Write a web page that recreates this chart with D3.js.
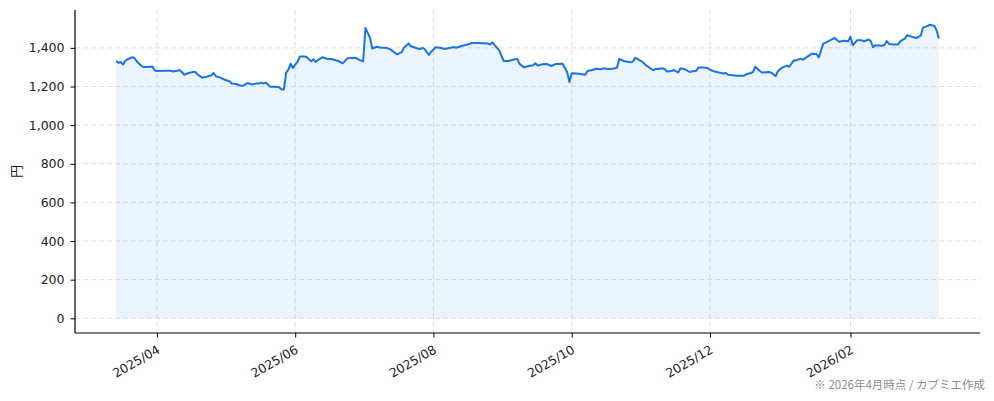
<!DOCTYPE html>
<html>
<head>
<meta charset="utf-8">
<script src="https://cdn.jsdelivr.net/npm/d3@7"></script>
<style>
  body { margin: 0; background: #fff; }
  svg { display: block; font-family: "DejaVu Sans", "Noto Sans CJK JP", sans-serif; }
  .grid line { stroke: #dfdfe6; stroke-dasharray: 5,3; stroke-width: 1; }
  .axis text { fill: #222; font-size: 12.5px; font-family: "DejaVu Sans", "Noto Sans CJK JP", sans-serif; }
  .axis path, .axis line { stroke: #000; }
  .footnote { fill: #8c8c8c; font-size: 11.5px; font-family: "Noto Sans CJK JP", sans-serif; }
</style>
</head>
<body>
<svg id="chart"></svg>
<script>
// first trading day shown, every point is an offset in days from it
const startDate = "2025-03-14";

const dayOffsets = [
  0, 1, 2, 3, 4, 5, 7, 8, 9, 11, 12, 14, 16, 17, 18, 21, 24, 25, 27, 28, 29, 30, 32, 34, 35, 36, 38, 40, 42, 43, 44, 46, 48, 50, 51, 53, 55, 56, 58,
  60, 62, 63, 64, 65, 66, 67, 68, 70, 72, 73, 74, 75, 76, 77, 78, 79, 80, 81, 83, 84, 86, 87, 88, 89, 91, 93, 95, 98, 100, 102, 105, 106, 107, 109, 110, 112, 113, 115, 117,
  119, 121, 124, 126, 127, 129, 130, 133, 134, 135, 136, 138, 139, 141, 143, 145, 147, 149, 150, 152, 155, 157, 160, 164, 165, 166, 169, 171, 173,
  176, 177, 178, 180, 182, 184, 185, 186, 188, 190, 192, 194, 197, 199, 200, 201, 203, 205, 207, 208, 210, 212, 214, 215, 217, 219, 220, 221, 222, 224, 227, 228, 229, 232, 234, 236, 237,
  238, 239, 241, 242, 243, 245, 246, 248, 249, 251, 253, 255, 256, 257, 259, 261, 262, 264, 266, 268, 269, 270, 272, 274, 277, 278, 280, 281, 282, 284, 285, 288, 289, 290, 291, 292, 294, 296, 297,
  299, 300, 302, 303, 305, 307, 309, 310, 312, 313, 315, 317, 319, 321, 323, 324, 325, 327, 329, 330, 332, 333, 334, 335, 338, 339, 340, 341, 343, 345, 346, 348, 349, 351, 353, 355, 356, 358, 359, 361, 362, 363
];

const prices = [
  1332, 1323, 1327, 1313, 1332, 1341, 1351, 1349, 1332, 1308, 1301, 1301, 1303, 1284, 1280, 1282, 1282, 1278, 1282, 1285, 1275, 1261, 1270, 1275, 1275, 1261, 1246, 1251, 1258, 1270, 1253, 1246, 1235, 1227, 1216, 1213, 1204, 1204, 1218,
  1210, 1216, 1215, 1220, 1215, 1220, 1210, 1199, 1199, 1196, 1185, 1185, 1272, 1287, 1318, 1296, 1313, 1327, 1355, 1355, 1353, 1330, 1341, 1327, 1337, 1351, 1344, 1342, 1332, 1320, 1346, 1349, 1347, 1339, 1330, 1503, 1453, 1397, 1406, 1401,
  1401, 1392, 1366, 1378, 1401, 1423, 1408, 1397, 1394, 1399, 1396, 1363, 1380, 1403, 1401, 1394, 1399, 1404, 1401, 1408, 1417, 1425, 1425, 1422, 1418, 1428, 1387, 1332, 1332,
  1341, 1343, 1317, 1299, 1306, 1310, 1320, 1308, 1315, 1317, 1306, 1317, 1318, 1275, 1223, 1268, 1267, 1265, 1261, 1280, 1285, 1292, 1289, 1294, 1291, 1292, 1294, 1298, 1343, 1332, 1325, 1329, 1349, 1329, 1308, 1292, 1284,
  1291, 1291, 1294, 1291, 1278, 1280, 1285, 1273, 1294, 1289, 1275, 1280, 1282, 1299, 1298, 1296, 1287, 1278, 1272, 1267, 1270, 1261, 1258, 1256, 1256, 1263, 1270, 1275, 1303, 1280, 1272, 1275, 1272, 1263, 1253, 1280, 1299, 1308, 1302,
  1335, 1335, 1344, 1339, 1355, 1370, 1368, 1351, 1422, 1427, 1439, 1451, 1432, 1437, 1434, 1458, 1413, 1440, 1439, 1434, 1443, 1434, 1403, 1413, 1411, 1415, 1435, 1420, 1417, 1417, 1435, 1448, 1465, 1458, 1451, 1463, 1505, 1513, 1520, 1513, 1491, 1448
];

const xTickDates = ["2025-04-01", "2025-06-01", "2025-08-01", "2025-10-01", "2025-12-01", "2026-02-01"];
const yTickValues = [0, 200, 400, 600, 800, 1000, 1200, 1400];
const yLabel = "円";
const footnote = "※ 2026年4月時点 / カブミエ作成";

class PriceChart {
  constructor(_config, _data) {
    this.config = {
      parentElement: _config.parentElement,
      containerWidth: _config.containerWidth || 994,
      containerHeight: _config.containerHeight || 401,
      margin: _config.margin || { top: 10, right: 14, bottom: 68, left: 75 },
    };
    this.data = _data;
    this.initVis();
  }

  initVis() {
    let vis = this;

    vis.width = vis.config.containerWidth - vis.config.margin.left - vis.config.margin.right;
    vis.height = vis.config.containerHeight - vis.config.margin.top - vis.config.margin.bottom;

    vis.xScale = d3.scaleTime().range([0, vis.width]);
    vis.yScale = d3.scaleLinear().range([vis.height, 0]);

    vis.xAxis = d3.axisBottom(vis.xScale)
      .tickValues(xTickDates.map(d3.timeParse("%Y-%m-%d")))
      .tickSize(4.5)
      .tickPadding(4)
      .tickFormat(d3.timeFormat("%Y/%m"));

    vis.yAxis = d3.axisLeft(vis.yScale)
      .tickValues(yTickValues)
      .tickSize(4.5)
      .tickPadding(6)
      .tickFormat(d3.format(","));

    vis.svg = d3.select(vis.config.parentElement)
      .attr("width", vis.config.containerWidth)
      .attr("height", vis.config.containerHeight);

    vis.chart = vis.svg.append("g")
      .attr("transform", `translate(${vis.config.margin.left},${vis.config.margin.top})`);

    vis.xGridG = vis.chart.append("g").attr("class", "grid");
    vis.yGridG = vis.chart.append("g").attr("class", "grid");

    vis.areaPath = vis.chart.append("path")
      .attr("fill", "#1a73e8")
      .attr("fill-opacity", 0.085);

    vis.linePath = vis.chart.append("path")
      .attr("fill", "none")
      .attr("stroke", "#1a73e8")
      .attr("stroke-width", 2)
      .attr("stroke-linejoin", "round");

    vis.xAxisG = vis.chart.append("g")
      .attr("class", "axis x-axis")
      .attr("transform", `translate(0,${vis.height})`);

    vis.yAxisG = vis.chart.append("g").attr("class", "axis y-axis");

    vis.svg.append("text")
      .attr("transform", `translate(21,${vis.config.margin.top + vis.height / 2}) rotate(-90)`)
      .attr("text-anchor", "middle")
      .style("font-size", "13px")
      .style("font-family", "'Noto Sans CJK JP', sans-serif")
      .style("fill", "#222")
      .text(yLabel);

    vis.svg.append("text")
      .attr("class", "footnote")
      .attr("x", 985)
      .attr("y", 389)
      .attr("text-anchor", "end")
      .text(footnote);
  }

  updateVis() {
    let vis = this;

    vis.xValue = d => d.date;
    vis.yValue = d => d.price;

    // matplotlib-like 5% padding on both axes, y starts from the filled baseline 0
    const xExt = d3.extent(vis.data, vis.xValue);
    const xPad = (xExt[1] - xExt[0]) * 0.05;
    vis.xScale.domain([new Date(+xExt[0] - xPad), new Date(+xExt[1] + xPad)]);

    const yMax = d3.max(vis.data, vis.yValue);
    vis.yScale.domain([-yMax * 0.05, yMax * 1.05]);

    vis.renderVis();
  }

  renderVis() {
    let vis = this;

    vis.xGridG.selectAll("line")
      .data(vis.xAxis.tickValues())
      .join("line")
      .attr("x1", d => vis.xScale(d))
      .attr("x2", d => vis.xScale(d))
      .attr("y1", 0)
      .attr("y2", vis.height);

    vis.yGridG.selectAll("line")
      .data(yTickValues)
      .join("line")
      .attr("x1", 0)
      .attr("x2", vis.width)
      .attr("y1", d => vis.yScale(d))
      .attr("y2", d => vis.yScale(d));

    const area = d3.area()
      .x(d => vis.xScale(vis.xValue(d)))
      .y0(vis.yScale(0))
      .y1(d => vis.yScale(vis.yValue(d)));

    const line = d3.line()
      .x(d => vis.xScale(vis.xValue(d)))
      .y(d => vis.yScale(vis.yValue(d)));

    vis.areaPath.datum(vis.data).attr("d", area);
    vis.linePath.datum(vis.data).attr("d", line);

    vis.xAxisG.call(vis.xAxis);
    vis.xAxisG.selectAll(".tick text")
      .attr("text-anchor", "end")
      .attr("dy", "0.35em")
      .attr("transform", "translate(-3,8) rotate(-30)");

    vis.yAxisG.call(vis.yAxis);

    vis.chart.selectAll(".axis .domain").attr("stroke-width", 1.2);
    // only left and bottom spines, no end caps
    vis.xAxisG.select(".domain").attr("d", `M0,0H${vis.width}`);
    vis.yAxisG.select(".domain").attr("d", `M0,0V${vis.height}`);
  }
}

const start = d3.timeParse("%Y-%m-%d")(startDate);
const data = dayOffsets.map((k, i) => ({ date: d3.timeDay.offset(start, k), price: prices[i] }));

const priceChart = new PriceChart({ parentElement: "#chart" }, data);
priceChart.updateVis();
</script>
</body>
</html>
